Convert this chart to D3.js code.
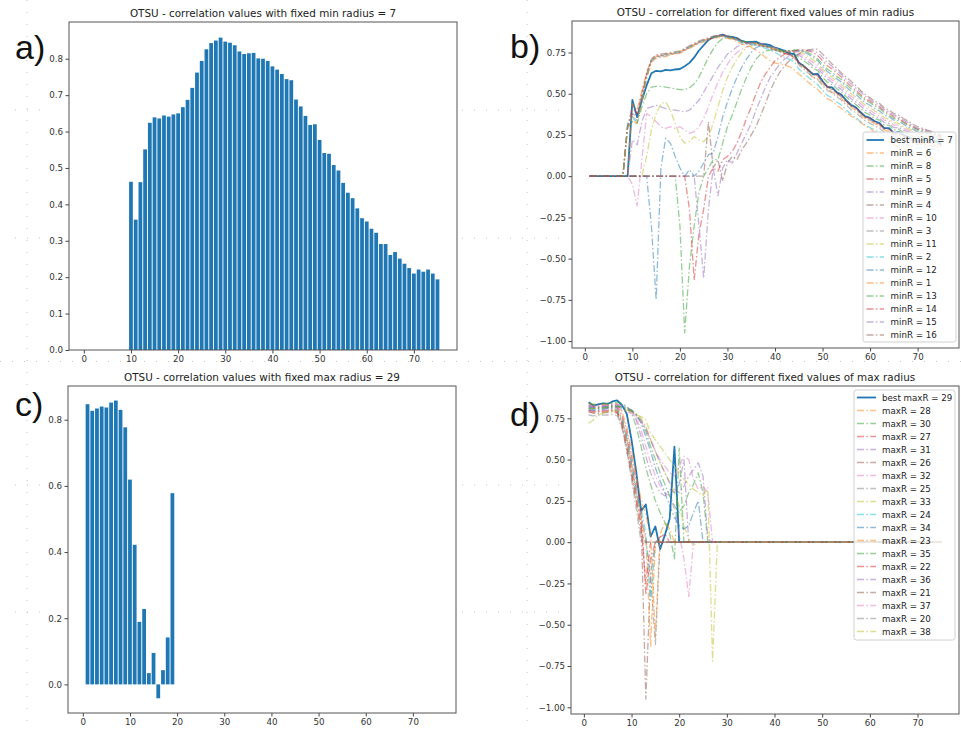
<!DOCTYPE html>
<html><head><meta charset="utf-8">
<script src="https://cdn.jsdelivr.net/npm/d3@7"></script>
<style>
html,body{margin:0;padding:0;background:#fff;}
svg{display:block;}
</style></head><body>
<svg id="chart" width="961" height="730"></svg>
<script>
// ---------------- data ----------------
const radii = [1,2,3,4,5,6,7,8,9,10,11,12,13,14,15,16,17,18,19,20,21,22,23,24,25,26,27,28,29,30,31,32,33,34,35,36,37,38,39,40,41,42,43,44,45,46,47,48,49,50,51,52,53,54,55,56,57,58,59,60,61,62,63,64,65,66,67,68,69,70,71,72,73,74,75];
const xTicks = [0,10,20,30,40,50,60,70];
const aYTicks = [0,0.1,0.2,0.3,0.4,0.5,0.6,0.7,0.8];
const cYTicks = [0,0.2,0.4,0.6,0.8];
const lineYTicks = [-1,-0.75,-0.5,-0.25,0,0.25,0.5,0.75];
const palette = ["#1f77b4","#ff7f0e","#2ca02c","#d62728","#9467bd","#8c564b","#e377c2","#7f7f7f","#bcbd22","#17becf"];
const titles = [
  "OTSU - correlation values with fixed min radius = 7",
  "OTSU - correlation for different fixed values of min radius",
  "OTSU - correlation values with fixed max radius = 29",
  "OTSU - correlation for different fixed values of max radius"
];
const panelLabels = ["a)","b)","c)","d)"];

// fixed min radius series (x = max radius 1..75)
const minR7 = [0,0,0,0,0,0,0,0,0,0.462,0.358,0.461,0.551,0.624,0.639,0.636,0.644,0.641,0.647,0.650,0.667,0.687,0.720,0.762,0.794,0.826,0.843,0.850,0.858,0.847,0.844,0.837,0.820,0.813,0.815,0.816,0.801,0.800,0.794,0.779,0.770,0.758,0.744,0.741,0.688,0.669,0.643,0.618,0.620,0.577,0.541,0.539,0.508,0.493,0.459,0.432,0.417,0.389,0.362,0.353,0.333,0.322,0.291,0.291,0.261,0.269,0.251,0.237,0.225,0.210,0.221,0.215,0.221,0.210,0.194];
const minR6 = [0,0,0,0,0,0,0,0,0,0.44,0.40,0.52,0.63,0.71,0.73,0.735,0.74,0.745,0.75,0.755,0.77,0.785,0.80,0.815,0.825,0.835,0.845,0.85,0.855,0.845,0.84,0.83,0.815,0.81,0.81,0.805,0.795,0.79,0.78,0.77,0.76,0.75,0.74,0.72,0.68,0.66,0.63,0.60,0.59,0.56,0.53,0.51,0.49,0.47,0.44,0.42,0.40,0.37,0.35,0.33,0.32,0.30,0.28,0.27,0.25,0.25,0.23,0.22,0.21,0.20,0.20,0.19,0.19,0.18,0.17];
const minR8 = [0,0,0,0,0,0,0,0,0.30,0.33,0.32,0.42,0.50,0.54,0.545,0.545,0.54,0.535,0.53,0.525,0.525,0.535,0.56,0.60,0.66,0.72,0.77,0.81,0.835,0.84,0.835,0.83,0.82,0.815,0.815,0.81,0.80,0.795,0.785,0.775,0.765,0.755,0.75,0.745,0.72,0.70,0.68,0.655,0.64,0.60,0.57,0.555,0.53,0.51,0.48,0.455,0.435,0.41,0.385,0.37,0.35,0.34,0.31,0.31,0.28,0.285,0.265,0.255,0.24,0.23,0.235,0.23,0.23,0.22,0.205];
const minR5 = [0,0,0,0,0,0,0,0,0.30,0.42,0.38,0.50,0.62,0.70,0.725,0.73,0.735,0.74,0.745,0.75,0.765,0.78,0.795,0.81,0.82,0.83,0.84,0.848,0.85,0.84,0.835,0.825,0.81,0.805,0.80,0.80,0.79,0.785,0.775,0.765,0.755,0.745,0.735,0.725,0.69,0.67,0.645,0.62,0.61,0.575,0.545,0.53,0.505,0.49,0.455,0.43,0.415,0.385,0.36,0.35,0.33,0.315,0.29,0.285,0.26,0.26,0.245,0.23,0.22,0.205,0.21,0.205,0.21,0.20,0.185];
const minR9 = [0,0,0,0,0,0,0,0,0,0.22,0.19,0.33,0.41,0.42,0.43,0.42,0.41,0.405,0.40,0.395,0.39,0.40,0.43,0.46,0.51,0.56,0.61,0.66,0.70,0.74,0.76,0.785,0.80,0.805,0.81,0.81,0.805,0.80,0.79,0.78,0.77,0.76,0.755,0.75,0.735,0.715,0.695,0.67,0.655,0.62,0.59,0.57,0.545,0.525,0.495,0.47,0.45,0.425,0.40,0.385,0.365,0.35,0.325,0.32,0.295,0.295,0.28,0.27,0.255,0.24,0.245,0.24,0.24,0.23,0.215];
const minR4 = [0,0,0,0,0,0,0,0,0.31,0.38,0.36,0.49,0.62,0.71,0.735,0.74,0.745,0.75,0.755,0.76,0.775,0.79,0.805,0.82,0.83,0.84,0.85,0.855,0.86,0.85,0.845,0.835,0.82,0.81,0.81,0.81,0.795,0.79,0.78,0.77,0.76,0.75,0.74,0.73,0.69,0.665,0.64,0.615,0.605,0.57,0.54,0.525,0.50,0.48,0.45,0.425,0.405,0.38,0.355,0.34,0.325,0.31,0.285,0.28,0.255,0.255,0.24,0.225,0.215,0.20,0.205,0.20,0.20,0.195,0.18];
const minR10 = [0,0,0,0,0,0,0,0,0,-0.05,-0.18,0.10,0.38,0.36,0.33,0.30,0.29,0.30,0.29,0.30,0.28,0.26,0.27,0.30,0.35,0.42,0.50,0.57,0.63,0.68,0.72,0.75,0.77,0.785,0.79,0.795,0.795,0.79,0.785,0.775,0.765,0.76,0.755,0.755,0.745,0.73,0.71,0.69,0.67,0.635,0.605,0.585,0.56,0.54,0.51,0.485,0.465,0.44,0.415,0.40,0.38,0.365,0.34,0.335,0.31,0.31,0.29,0.28,0.265,0.25,0.255,0.245,0.245,0.235,0.22];
const minR3 = [0,0,0,0,0,0,0,0,0.32,0.36,0.34,0.47,0.60,0.70,0.725,0.73,0.74,0.745,0.75,0.755,0.77,0.785,0.80,0.815,0.825,0.835,0.845,0.85,0.855,0.845,0.84,0.83,0.815,0.805,0.805,0.80,0.79,0.785,0.775,0.765,0.755,0.745,0.735,0.72,0.675,0.65,0.625,0.60,0.585,0.55,0.52,0.505,0.48,0.46,0.43,0.405,0.385,0.36,0.335,0.32,0.305,0.29,0.265,0.26,0.24,0.235,0.22,0.21,0.20,0.19,0.19,0.185,0.185,0.18,0.17];
const minR11 = [0,0,0,0,0,0,0,0,0,0,0,0,0.12,0.28,0.38,0.44,0.45,0.40,0.32,0.24,0.20,0.21,0.24,0.22,0.21,0.24,0.32,0.42,0.52,0.60,0.66,0.71,0.75,0.78,0.79,0.795,0.795,0.79,0.78,0.775,0.765,0.76,0.76,0.76,0.755,0.745,0.725,0.705,0.685,0.65,0.62,0.60,0.575,0.555,0.525,0.50,0.48,0.455,0.43,0.415,0.395,0.38,0.355,0.345,0.325,0.32,0.30,0.29,0.275,0.26,0.26,0.25,0.25,0.24,0.225];
const minR2 = [0,0,0,0,0,0,0,0,0.30,0.35,0.33,0.46,0.60,0.70,0.72,0.725,0.73,0.74,0.745,0.75,0.765,0.78,0.795,0.81,0.82,0.83,0.84,0.845,0.85,0.84,0.835,0.825,0.81,0.80,0.80,0.795,0.785,0.775,0.765,0.75,0.735,0.72,0.71,0.695,0.65,0.625,0.60,0.575,0.555,0.52,0.49,0.475,0.45,0.43,0.40,0.375,0.355,0.33,0.31,0.295,0.28,0.265,0.245,0.24,0.22,0.215,0.20,0.19,0.18,0.17,0.17,0.165,0.165,0.16,0.15];
const minR12 = [0,0,0,0,0,0,0,0,0,0,0,0,0,-0.3,-0.75,0.05,0.23,0.20,0.12,0.05,0.0,0.04,0.0,0.03,0.08,0.13,0.14,0.24,0.36,0.45,0.53,0.60,0.66,0.71,0.75,0.78,0.79,0.79,0.785,0.78,0.77,0.765,0.76,0.76,0.76,0.755,0.74,0.72,0.70,0.665,0.635,0.615,0.59,0.57,0.54,0.515,0.495,0.47,0.445,0.43,0.41,0.395,0.37,0.36,0.34,0.335,0.315,0.30,0.285,0.27,0.27,0.26,0.255,0.245,0.23];
const minR1 = [0,0,0,0,0,0,0,0,0.29,0.34,0.32,0.45,0.59,0.69,0.715,0.72,0.725,0.735,0.74,0.745,0.76,0.775,0.79,0.805,0.815,0.825,0.835,0.84,0.845,0.835,0.83,0.815,0.80,0.79,0.78,0.765,0.745,0.72,0.70,0.685,0.68,0.675,0.665,0.645,0.62,0.595,0.57,0.545,0.525,0.495,0.47,0.455,0.43,0.41,0.385,0.365,0.345,0.325,0.305,0.29,0.265,0.24,0.22,0.205,0.19,0.175,0.165,0.15,0.14,0.13,0.125,0.115,0.11,0.10,0.09];
const minR13 = [0,0,0,0,0,0,0,0,0,0,0,0,0,0,0,0,0,0,0,-0.3,-0.95,-0.55,-0.3,-0.1,0.0,0.05,0.1,0.1,0.2,0.3,0.37,0.45,0.53,0.6,0.66,0.71,0.74,0.76,0.765,0.765,0.76,0.76,0.76,0.765,0.765,0.76,0.75,0.73,0.71,0.68,0.65,0.63,0.605,0.585,0.555,0.53,0.51,0.485,0.46,0.445,0.425,0.41,0.385,0.37,0.35,0.345,0.325,0.31,0.295,0.28,0.275,0.265,0.26,0.25,0.235];
const minR14 = [0,0,0,0,0,0,0,0,0,0,0,0,0,0,0,0,0,0,0,0,0,-0.2,-0.63,-0.35,-0.2,0.0,0.05,0.03,0.1,0.12,0.15,0.2,0.27,0.35,0.42,0.5,0.57,0.62,0.66,0.7,0.72,0.74,0.75,0.76,0.765,0.765,0.76,0.75,0.73,0.70,0.67,0.65,0.625,0.60,0.57,0.545,0.52,0.495,0.47,0.455,0.435,0.42,0.395,0.38,0.36,0.35,0.33,0.315,0.30,0.285,0.28,0.27,0.265,0.255,0.24];
const minR15 = [0,0,0,0,0,0,0,0,0,0,0,0,0,0,0,0,0,0,0,0,0,0,0,-0.3,-0.62,-0.2,0.05,-0.12,0.05,0.1,0.08,0.14,0.2,0.26,0.32,0.4,0.47,0.54,0.6,0.64,0.68,0.71,0.73,0.75,0.76,0.765,0.765,0.76,0.75,0.72,0.69,0.665,0.64,0.615,0.585,0.56,0.535,0.51,0.485,0.465,0.445,0.43,0.405,0.39,0.37,0.36,0.34,0.325,0.305,0.29,0.285,0.275,0.27,0.26,0.245];
const minR16 = [0,0,0,0,0,0,0,0,0,0,0,0,0,0,0,0,0,0,0,0,0,0,0,0,0,0.33,0.05,0.1,-0.03,0.08,0.12,0.1,0.16,0.2,0.25,0.3,0.37,0.44,0.52,0.58,0.63,0.67,0.7,0.72,0.74,0.755,0.765,0.77,0.77,0.74,0.71,0.68,0.655,0.625,0.60,0.575,0.55,0.52,0.495,0.475,0.455,0.44,0.415,0.40,0.38,0.37,0.35,0.335,0.315,0.30,0.29,0.28,0.27,0.26,0.25];

// fixed max radius series (x = min radius 1..75)
const maxR29 = [0.847,0.827,0.834,0.840,0.837,0.852,0.858,0.830,0.777,0.619,0.422,0.189,0.228,0.034,0.095,-0.042,0.043,0.142,0.578,0,0,0,0,0,0,0,0,0,0,0,0,0,0,0,0,0,0,0,0,0,0,0,0,0,0,0,0,0,0,0,0,0,0,0,0,0,0,0,0,0,0,0,0,0,0,0,0,0,0,0,0,0,0,0,0];
const maxR28 = [0.84,0.83,0.83,0.835,0.835,0.84,0.835,0.79,0.70,0.56,0.40,0.26,0.16,0.05,-0.58,0.05,0.12,0.08,0,0,0,0,0,0,0,0,0,0,0,0,0,0,0,0,0,0,0,0,0,0,0,0,0,0,0,0,0,0,0,0,0,0,0,0,0,0,0,0,0,0,0,0,0,0,0,0,0,0,0,0,0,0,0,0,0];
const maxR30 = [0.84,0.835,0.835,0.84,0.84,0.845,0.845,0.84,0.82,0.78,0.70,0.58,0.45,0.35,0.25,0.18,0.12,0.05,-0.1,0.57,0,0,0,0,0,0,0,0,0,0,0,0,0,0,0,0,0,0,0,0,0,0,0,0,0,0,0,0,0,0,0,0,0,0,0,0,0,0,0,0,0,0,0,0,0,0,0,0,0,0,0,0,0,0,0];
const maxR27 = [0.83,0.82,0.82,0.825,0.825,0.83,0.82,0.77,0.67,0.52,0.36,0.22,-0.32,-0.1,0.0,0.03,0.05,0,0,0,0,0,0,0,0,0,0,0,0,0,0,0,0,0,0,0,0,0,0,0,0,0,0,0,0,0,0,0,0,0,0,0,0,0,0,0,0,0,0,0,0,0,0,0,0,0,0,0,0,0,0,0,0,0,0];
const maxR31 = [0.83,0.825,0.83,0.83,0.83,0.835,0.835,0.83,0.82,0.80,0.74,0.64,0.52,0.42,0.35,0.30,0.28,0.32,0.30,0.35,0.50,0,0,0,0,0,0,0,0,0,0,0,0,0,0,0,0,0,0,0,0,0,0,0,0,0,0,0,0,0,0,0,0,0,0,0,0,0,0,0,0,0,0,0,0,0,0,0,0,0,0,0,0,0,0];
const maxR26 = [0.82,0.81,0.81,0.815,0.815,0.82,0.81,0.75,0.64,0.48,0.32,0.15,-0.95,-0.2,0.0,0.02,0,0,0,0,0,0,0,0,0,0,0,0,0,0,0,0,0,0,0,0,0,0,0,0,0,0,0,0,0,0,0,0,0,0,0,0,0,0,0,0,0,0,0,0,0,0,0,0,0,0,0,0,0,0,0,0,0,0,0];
const maxR32 = [0.82,0.815,0.82,0.82,0.825,0.83,0.83,0.825,0.81,0.79,0.75,0.68,0.58,0.48,0.40,0.34,0.30,0.28,0.20,0.05,-0.1,-0.33,0,0,0,0,0,0,0,0,0,0,0,0,0,0,0,0,0,0,0,0,0,0,0,0,0,0,0,0,0,0,0,0,0,0,0,0,0,0,0,0,0,0,0,0,0,0,0,0,0,0,0,0,0];
const maxR25 = [0.80,0.795,0.80,0.80,0.80,0.805,0.795,0.73,0.62,0.46,0.30,0.16,0.02,-0.2,-0.62,0,0,0,0,0,0,0,0,0,0,0,0,0,0,0,0,0,0,0,0,0,0,0,0,0,0,0,0,0,0,0,0,0,0,0,0,0,0,0,0,0,0,0,0,0,0,0,0,0,0,0,0,0,0,0,0,0,0,0,0];
const maxR33 = [0.81,0.81,0.81,0.815,0.82,0.825,0.825,0.82,0.81,0.80,0.78,0.75,0.70,0.62,0.55,0.48,0.42,0.36,0.30,0.22,0.10,0.02,-0.02,0,0,0,0,0,0,0,0,0,0,0,0,0,0,0,0,0,0,0,0,0,0,0,0,0,0,0,0,0,0,0,0,0,0,0,0,0,0,0,0,0,0,0,0,0,0,0,0,0,0,0,0];
const maxR24 = [0.81,0.80,0.80,0.805,0.81,0.81,0.80,0.74,0.63,0.47,0.30,0.21,0.05,-0.35,0,0,0,0,0,0,0,0,0,0,0,0,0,0,0,0,0,0,0,0,0,0,0,0,0,0,0,0,0,0,0,0,0,0,0,0,0,0,0,0,0,0,0,0,0,0,0,0,0,0,0,0,0,0,0,0,0,0,0,0,0];
const maxR34 = [0.82,0.815,0.815,0.82,0.82,0.825,0.825,0.82,0.81,0.80,0.77,0.72,0.64,0.55,0.45,0.37,0.30,0.22,0.15,0.10,0.08,0.10,0.18,0.25,0,0,0,0,0,0,0,0,0,0,0,0,0,0,0,0,0,0,0,0,0,0,0,0,0,0,0,0,0,0,0,0,0,0,0,0,0,0,0,0,0,0,0,0,0,0,0,0,0,0,0];
const maxR23 = [0.79,0.785,0.79,0.79,0.79,0.795,0.785,0.72,0.60,0.44,0.28,0.12,0.02,-0.63,0,0,0,0,0,0,0,0,0,0,0,0,0,0,0,0,0,0,0,0,0,0,0,0,0,0,0,0,0,0,0,0,0,0,0,0,0,0,0,0,0,0,0,0,0,0,0,0,0,0,0,0,0,0,0,0,0,0,0,0,0];
const maxR35 = [0.81,0.805,0.81,0.81,0.815,0.82,0.82,0.815,0.805,0.795,0.77,0.73,0.67,0.58,0.50,0.42,0.35,0.28,0.22,0.18,0.22,0.30,0.35,0.42,0.30,0,0,0,0,0,0,0,0,0,0,0,0,0,0,0,0,0,0,0,0,0,0,0,0,0,0,0,0,0,0,0,0,0,0,0,0,0,0,0,0,0,0,0,0,0,0,0,0,0,0];
const maxR22 = [0.80,0.79,0.79,0.795,0.795,0.80,0.79,0.72,0.58,0.42,0.26,0.10,-0.25,0,0,0,0,0,0,0,0,0,0,0,0,0,0,0,0,0,0,0,0,0,0,0,0,0,0,0,0,0,0,0,0,0,0,0,0,0,0,0,0,0,0,0,0,0,0,0,0,0,0,0,0,0,0,0,0,0,0,0,0,0,0];
const maxR36 = [0.80,0.80,0.80,0.805,0.81,0.815,0.815,0.81,0.80,0.79,0.77,0.74,0.69,0.62,0.55,0.48,0.42,0.36,0.32,0.30,0.34,0.40,0.44,0.48,0.40,0.02,0,0,0,0,0,0,0,0,0,0,0,0,0,0,0,0,0,0,0,0,0,0,0,0,0,0,0,0,0,0,0,0,0,0,0,0,0,0,0,0,0,0,0,0,0,0,0,0,0];
const maxR21 = [0.79,0.78,0.78,0.785,0.785,0.79,0.78,0.70,0.56,0.40,0.24,0.05,0,0,0,0,0,0,0,0,0,0,0,0,0,0,0,0,0,0,0,0,0,0,0,0,0,0,0,0,0,0,0,0,0,0,0,0,0,0,0,0,0,0,0,0,0,0,0,0,0,0,0,0,0,0,0,0,0,0,0,0,0,0,0];
const maxR37 = [0.79,0.79,0.79,0.795,0.80,0.805,0.805,0.80,0.79,0.78,0.76,0.73,0.68,0.62,0.55,0.50,0.46,0.42,0.40,0.46,0.52,0.50,0.38,0.32,0.34,0.30,0,0,0,0,0,0,0,0,0,0,0,0,0,0,0,0,0,0,0,0,0,0,0,0,0,0,0,0,0,0,0,0,0,0,0,0,0,0,0,0,0,0,0,0,0,0,0,0,0];
const maxR20 = [0.77,0.765,0.77,0.77,0.77,0.775,0.765,0.69,0.55,0.38,0.20,0,0,0,0,0,0,0,0,0,0,0,0,0,0,0,0,0,0,0,0,0,0,0,0,0,0,0,0,0,0,0,0,0,0,0,0,0,0,0,0,0,0,0,0,0,0,0,0,0,0,0,0,0,0,0,0,0,0,0,0,0,0,0,0];
const maxR38 = [0.72,0.74,0.77,0.78,0.79,0.795,0.80,0.80,0.80,0.79,0.77,0.76,0.74,0.66,0.62,0.58,0.54,0.50,0.46,0.42,0.38,0.35,0.32,0.30,0.28,0.33,-0.72,0,0,0,0,0,0,0,0,0,0,0,0,0,0,0,0,0,0,0,0,0,0,0,0,0,0,0,0,0,0,0,0,0,0,0,0,0,0,0,0,0,0,0,0,0,0,0,0,0,0];

const minLabels = ["best minR = 7","minR = 6","minR = 8","minR = 5","minR = 9","minR = 4","minR = 10","minR = 3","minR = 11","minR = 2","minR = 12","minR = 1","minR = 13","minR = 14","minR = 15","minR = 16"];
const minSeries = [minR7,minR6,minR8,minR5,minR9,minR4,minR10,minR3,minR11,minR2,minR12,minR1,minR13,minR14,minR15,minR16];
const maxLabels = ["best maxR = 29","maxR = 28","maxR = 30","maxR = 27","maxR = 31","maxR = 26","maxR = 32","maxR = 25","maxR = 33","maxR = 24","maxR = 34","maxR = 23","maxR = 35","maxR = 22","maxR = 36","maxR = 21","maxR = 37","maxR = 20","maxR = 38"];
const maxSeries = [maxR29,maxR28,maxR30,maxR27,maxR31,maxR26,maxR32,maxR25,maxR33,maxR24,maxR34,maxR23,maxR35,maxR22,maxR36,maxR21,maxR37,maxR20,maxR38];

// ---------------- drawing ----------------
const svg = d3.select("#chart");
const FONT = "DejaVu Sans, sans-serif";
const TICK_FS = 8.7;

// faint dotted guides (page background)
const guides = svg.append("g").attr("stroke","#c4c4c4").attr("stroke-width",1).attr("stroke-dasharray","1,11");
[[27,0,27,730],[527,0,527,730],[0,361.5,961,361.5],
 [15,110,45,110],[15,238,45,238],[462,110,567,110],[462,238,567,238],
 [15,485,45,485],[15,612,45,612],[462,485,567,485],[462,612,567,612]]
 .forEach(s=>guides.append("line").attr("x1",s[0]).attr("y1",s[1]).attr("x2",s[2]).attr("y2",s[3]));

function makePanel(box, xDom, yDom, yTicks, yFmt, title, label, labelPos) {
  const g = svg.append("g");
  const x = d3.scaleLinear().domain(xDom).range([box.x0, box.x1]);
  const y = d3.scaleLinear().domain(yDom).range([box.y1, box.y0]);
  g.append("rect").attr("x",box.x0).attr("y",box.y0).attr("width",box.x1-box.x0).attr("height",box.y1-box.y0)
    .attr("fill","#fff");
  const ax = g.append("g").attr("transform",`translate(0,${box.y1})`)
    .call(d3.axisBottom(x).tickValues(xTicks).tickSize(3.5).tickPadding(2.5).tickFormat(d3.format("d")));
  const ay = g.append("g").attr("transform",`translate(${box.x0},0)`)
    .call(d3.axisLeft(y).tickValues(yTicks).tickSize(3.5).tickPadding(2.5).tickFormat(d3.format(yFmt)));
  [ax,ay].forEach(a=>{
    a.select(".domain").remove();
    a.selectAll("line").attr("stroke","#444");
    a.selectAll("text").attr("font-family",FONT).attr("font-size",TICK_FS).attr("fill","#333");
  });
  g.append("text").attr("x",(box.x0+box.x1)/2).attr("y",box.y0-5).attr("text-anchor","middle")
    .attr("font-family",FONT).attr("font-size",10.4).attr("fill","#222").text(title);
  svg.append("text").attr("x",labelPos[0]).attr("y",labelPos[1]).attr("font-family","Liberation Sans, Arial, sans-serif")
    .attr("font-size",34).attr("fill","#111").text(label);
  const plot = g.append("g");
  const frame = () => g.append("rect").attr("x",box.x0).attr("y",box.y0).attr("width",box.x1-box.x0).attr("height",box.y1-box.y0)
    .attr("fill","none").attr("stroke","#555").attr("stroke-width",1);
  return {g, plot, x, y, frame};
}

function drawBars(p, values) {
  const bw = p.x(0.8) - p.x(0);
  p.plot.selectAll("rect.bar").data(radii.map((r,i)=>({r, v: values[i]})).filter(d=>d.v!==0))
    .join("rect").attr("class","bar")
    .attr("x", d=>p.x(d.r)-bw/2).attr("width", bw)
    .attr("y", d=>Math.min(p.y(d.v), p.y(0)))
    .attr("height", d=>Math.abs(p.y(d.v)-p.y(0)))
    .attr("fill","#1f77b4");
  p.frame();
}

function drawLines(p, seriesList, labels, legendBox, sampleX, textX) {
  const line = d3.line().x((d,i)=>p.x(radii[i])).y(d=>p.y(d));
  seriesList.forEach((s,k)=>{
    const best = k===0;
    p.plot.append("path").attr("d", line(s)).attr("fill","none")
      .attr("stroke", palette[k%10]).attr("stroke-width", best?1.8:1.3)
      .attr("stroke-opacity", best?1:0.5)
      .attr("stroke-dasharray", best?null:"7,2.4,1.5,2.4")
      .attr("stroke-linejoin","round");
  });
  p.frame();
  const lg = p.g.append("g");
  lg.append("rect").attr("x",legendBox.x0).attr("y",legendBox.y0)
    .attr("width",legendBox.x1-legendBox.x0).attr("height",legendBox.y1-legendBox.y0)
    .attr("rx",2.5).attr("fill","#fff").attr("fill-opacity",0.8).attr("stroke","#d0d0d0").attr("stroke-width",1);
  labels.forEach((lab,k)=>{
    const yy = legendBox.first + k*13;
    const best = k===0;
    lg.append("line").attr("x1",sampleX[0]).attr("x2",sampleX[1]).attr("y1",yy).attr("y2",yy)
      .attr("stroke",palette[k%10]).attr("stroke-width",best?1.8:1.3).attr("stroke-opacity",best?1:0.5)
      .attr("stroke-dasharray",best?null:"7,2.4,1.5,2.4");
    lg.append("text").attr("x",textX).attr("y",yy).attr("dy","0.35em")
      .attr("font-family",FONT).attr("font-size",8.7).attr("fill","#222").text(lab);
  });
}

// a)
const pa = makePanel({x0:69,x1:457,y0:22,y1:350}, [-3.14,79.14], [0,0.9009], aYTicks, ".1f", titles[0], panelLabels[0], [15,59]);
drawBars(pa, minR7);
// c)
const pc = makePanel({x0:68,x1:456,y0:386,y1:713}, [-3.14,79.14], [-0.0865,0.902], cYTicks, ".1f", titles[2], panelLabels[2], [15,416]);
drawBars(pc, maxR29);
// b)
const pb = makePanel({x0:572,x1:959,y0:21,y1:348}, [-2.7,78.7], [-1.042,0.941], lineYTicks, ".2f", titles[1], panelLabels[1], [510,58]);
drawLines(pb, minSeries, minLabels, {x0:863,x1:956,y0:132,y1:342,first:140}, [866.5,884], 890.5);
// d)
const pd = makePanel({x0:571,x1:959,y0:386,y1:714}, [-2.7,78.7], [-1.0405,0.9456], lineYTicks, ".2f", titles[3], panelLabels[3], [510,426]);
drawLines(pd, maxSeries, maxLabels, {x0:854,x1:955,y0:390,y1:640,first:397.5}, [857,876], 882);
</script>
</body></html>
